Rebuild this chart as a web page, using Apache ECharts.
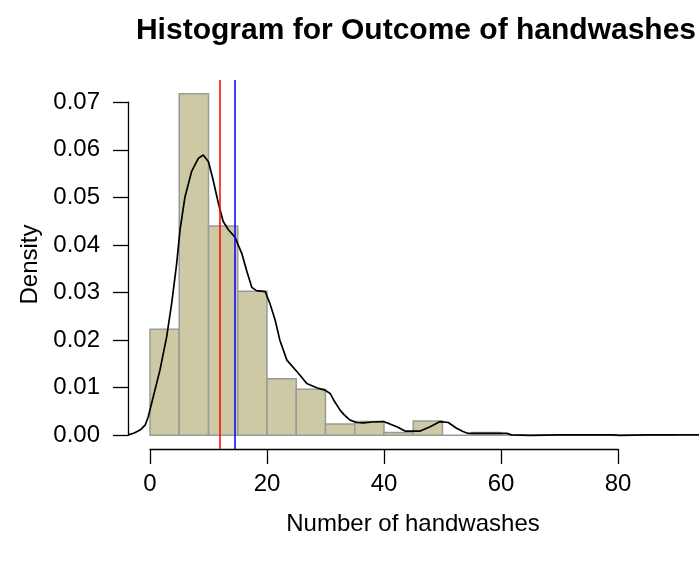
<!DOCTYPE html>
<html>
<head>
<meta charset="utf-8">
<script src="https://cdn.jsdelivr.net/npm/echarts@6/dist/echarts.min.js"></script>
<style>
html,body{margin:0;padding:0;background:#fff;}
#chart{width:699px;height:563px;}
</style>
</head>
<body>
<div id="chart"></div>
<script>
// ---- data ----
var binStarts = [0,5,10,15,20,25,30,35,40,45,50,55,60,65,70,75,80,85];
var binWidth = 5;
var binDensity = [0.0223,0.0718,0.0440,0.0303,0.0119,0.0097,0.0024,0.0029,0.0006,0.0030,0,0.0006,0,0,0,0,0,0];
var densityX = [-3.7,-2.7,-1.7,-0.8,-0.3,0.56,1.7,2.85,3.7,4.56,5.13,5.98,7.1,8.26,9.1,10.0,10.8,11.7,12.5,13.4,14.5,15.7,16.5,17.4,18.2,19.7,20.5,21.4,22.2,23.4,25.4,26.8,28.5,29.9,30.8,31.5,32.5,33.2,34.2,35.3,36.5,38.0,39.9,41.0,42.2,43.6,46.2,47.9,49.6,51.0,52.4,53.5,54.4,58.0,61.0,61.8,65,70,75,79,80.3,85,88,95];
var densityY = [0.0001,0.0005,0.0011,0.0022,0.0039,0.0081,0.0137,0.0207,0.0277,0.0361,0.0431,0.0501,0.0554,0.0582,0.0589,0.0575,0.0536,0.0487,0.0450,0.0432,0.0417,0.0382,0.0347,0.0311,0.0304,0.0302,0.0277,0.0242,0.0200,0.0158,0.0130,0.0109,0.0100,0.0095,0.0088,0.0072,0.0053,0.0043,0.0032,0.0027,0.0026,0.0028,0.0029,0.0024,0.0018,0.0009,0.0009,0.0018,0.0029,0.0027,0.0015,0.0008,0.0004,0.0004,0.0004,0.0001,0.0000,0.0001,0.0001,0.0001,0.0000,0.0001,0.0001,0.0001];
var medianValue = 11.9;
var meanValue = 14.5;
var xTicks = [0,20,40,60,80];
var yTicks = [0,0.01,0.02,0.03,0.04,0.05,0.06,0.07];
var titleText = 'Histogram for Outcome of handwashes';
var xLabel = 'Number of handwashes';
var yLabel = 'Density';

// ---- build ----
var histData = binStarts.map(function(s,i){ return [s, s+binWidth, binDensity[i]]; });
var densData = densityX.map(function(x,i){ return [x, densityY[i]]; });
var yMaxData = Math.max.apply(null, binDensity);
var FONT = '"Liberation Sans", Arial, sans-serif';

var chart = echarts.init(document.getElementById('chart'), null, {renderer:'canvas'});
chart.setOption({
  animation:false,
  backgroundColor:'#fff',
  title:{
    text:titleText, left:411, top:11, textAlign:'center',
    textStyle:{fontFamily:FONT, fontSize:30, fontWeight:'bold', color:'#000'}
  },
  grid:[
    {left:128, right:1, top:80, bottom:114},
    {left:150, right:81, top:80, bottom:114},
    {left:128, right:1, top:102.2, bottom:127.7}
  ],
  xAxis:[
    {gridIndex:0, type:'value', min:-3.76, max:93.68,
     axisLine:{show:false}, axisTick:{show:false}, axisLabel:{show:false}, splitLine:{show:false},
     name:xLabel, nameLocation:'middle', nameGap:63,
     nameTextStyle:{fontFamily:FONT, fontSize:24, color:'#000'}},
    {gridIndex:1, type:'value', min:xTicks[0], max:xTicks[xTicks.length-1], interval:20,
     axisLine:{show:true, onZero:false, lineStyle:{color:'#000', width:1.3}},
     axisTick:{show:true, inside:false, length:15, lineStyle:{color:'#000', width:1.3}},
     axisLabel:{show:true, margin:23, fontFamily:FONT, fontSize:24, color:'#000'},
     splitLine:{show:false}},
    {gridIndex:2, type:'value', show:false}
  ],
  yAxis:[
    {gridIndex:0, type:'value', min:-0.04*yMaxData, max:1.04*yMaxData,
     axisLine:{show:false}, axisTick:{show:false}, axisLabel:{show:false}, splitLine:{show:false},
     name:yLabel, nameLocation:'middle', nameGap:86, nameRotate:90,
     nameTextStyle:{fontFamily:FONT, fontSize:24, color:'#000'}},
    {gridIndex:1, type:'value', show:false, min:0, max:1},
    {gridIndex:2, type:'value', min:yTicks[0], max:yTicks[yTicks.length-1], interval:0.01,
     axisLine:{show:true, onZero:false, lineStyle:{color:'#000', width:1.3}},
     axisTick:{show:true, inside:false, length:15, lineStyle:{color:'#000', width:1.3}},
     axisLabel:{show:true, margin:28, fontFamily:FONT, fontSize:24, color:'#000',
       formatter:function(v){ return v.toFixed(2); }},
     splitLine:{show:false}}
  ],
  series:[
    {type:'custom', xAxisIndex:0, yAxisIndex:0, clip:true, data:histData,
     renderItem:function(params, api){
       var p1 = api.coord([api.value(0), api.value(2)]);
       var p2 = api.coord([api.value(1), 0]);
       return {type:'rect',
         shape:{x:p1[0], y:p1[1], width:p2[0]-p1[0], height:p2[1]-p1[1]},
         style:{fill:'#CDC9A5', stroke:'#9a9a9a', lineWidth:1.5}};
     }},
    {type:'line', xAxisIndex:0, yAxisIndex:0, data:densData, showSymbol:false, symbol:'none',
     clip:true, smooth:false,
     lineStyle:{color:'#000', width:1.7},
     markLine:{silent:true, symbol:'none', label:{show:false},
       data:[
         {xAxis:medianValue, lineStyle:{color:'#ff0000', width:1.5, type:'solid'}},
         {xAxis:meanValue, lineStyle:{color:'#0000ff', width:1.5, type:'solid'}}
       ]}}
  ]
});
</script>
</body>
</html>
